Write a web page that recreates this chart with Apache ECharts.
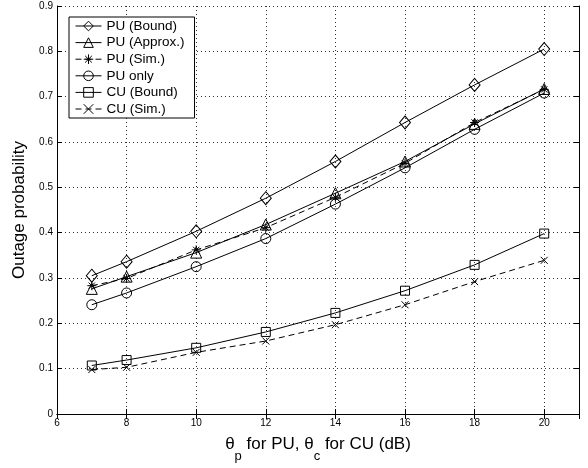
<!DOCTYPE html>
<html>
<head>
<meta charset="utf-8">
<script src="https://cdn.jsdelivr.net/npm/echarts@6/dist/echarts.min.js"></script>
<style>
html,body{margin:0;padding:0;background:#fff;}
#chart{width:588px;height:468px;}
</style>
</head>
<body>
<div id="chart"></div>
<script>
var xValues = [7, 8, 10, 12, 14, 16, 18, 20];
var puBound  = [0.305, 0.336, 0.403, 0.476, 0.557, 0.643, 0.726, 0.805];
var puApprox = [0.276, 0.303, 0.356, 0.418, 0.487, 0.557, 0.640, 0.717];
var puSim    = [0.283, 0.299, 0.362, 0.411, 0.478, 0.553, 0.643, 0.716];
var puOnly   = [0.241, 0.267, 0.325, 0.387, 0.463, 0.543, 0.628, 0.708];
var cuBound  = [0.107, 0.119, 0.146, 0.181, 0.223, 0.272, 0.329, 0.398];
var cuSim    = [0.098, 0.103, 0.136, 0.161, 0.197, 0.241, 0.292, 0.339];
var seriesNames = ['PU (Bound)', 'PU (Approx.)', 'PU (Sim.)', 'PU only', 'CU (Bound)', 'CU (Sim.)'];

var FONT = '"Liberation Sans", Arial, Helvetica, sans-serif';
function pairs(vals){ return xValues.map(function(x,i){ return [x, vals[i]]; }); }

var SYM = {
  diamond: 'path://M0,-1L0.8,0L0,1L-0.8,0Z',
  star: 'path://M-1,0L1,0M0,-1L0,1M-0.7,-0.7L0.7,0.7M-0.7,0.7L0.7,-0.7',
  cross: 'path://M-1,-1L1,1M-1,1L1,-1'
};

function mk(name, vals, symbol, size, dashed){
  return {
    name: name, type: 'line', data: pairs(vals),
    symbol: symbol, symbolSize: size, showSymbol: true,
    lineStyle: {color: '#000', width: 1, type: dashed ? [6,4] : 'solid'},
    itemStyle: {color: 'rgba(255,255,255,0)', borderColor: '#000', borderWidth: 1},
    emphasis: {disabled: true}, animation: false, z: 3
  };
}

var chart = echarts.init(document.getElementById('chart'), null, {renderer: 'canvas'});
var axisLineStyle = {show: true, lineStyle: {color: '#000', width: 1}};
var split = {show: true, lineStyle: {color: '#000', type: [1,3], width: 1, opacity: 0.8}};
chart.setOption({
  backgroundColor: '#fff',
  animation: false,
  grid: {left: 57, right: 9, top: 6, bottom: 50, containLabel: false},
  legend: {
    left: 69, top: 17, orient: 'vertical',
    data: seriesNames,
    backgroundColor: '#fff', borderColor: '#000', borderWidth: 1,
    padding: [2, 10, 2, 6], itemGap: 2.6, itemWidth: 26, itemHeight: 12,
    lineStyle: {width: 1},
    itemStyle: {borderWidth: 1},
    textStyle: {fontFamily: FONT, fontSize: 13.5, color: '#000', padding: [0,0,0,0]},
    selectedMode: false
  },
  xAxis: [{
    type: 'value', min: 6, max: 21, interval: 2,
    axisLine: axisLineStyle,
    axisTick: {show: true, inside: true, length: 5, lineStyle: {color: '#000'}},
    axisLabel: {fontFamily: FONT, fontSize: 10, color: '#000', margin: 4,
      formatter: function(v){ return v === 21 ? '' : String(v); }},
    splitLine: split,
    name: '{m|θ}{s|p}{m| for PU, θ}{s|c}{m| for CU (dB)}',
    nameLocation: 'middle', nameGap: 22,
    nameTextStyle: {rich: {
      m: {fontFamily: FONT, fontSize: 17, color: '#000', verticalAlign: 'top', lineHeight: 18},
      s: {fontFamily: FONT, fontSize: 13, color: '#000', verticalAlign: 'bottom', lineHeight: 27}
    }}
  }, {
    type: 'value', min: 6, max: 21, interval: 2, position: 'top',
    axisLine: axisLineStyle,
    axisTick: {show: true, inside: true, length: 5, lineStyle: {color: '#000'}},
    axisLabel: {show: false}, splitLine: {show: false}
  }],
  yAxis: [{
    type: 'value', min: 0, max: 0.9, interval: 0.1,
    axisLine: axisLineStyle,
    axisTick: {show: true, inside: true, length: 5, lineStyle: {color: '#000'}},
    axisLabel: {fontFamily: FONT, fontSize: 10, color: '#000', margin: 4,
      formatter: function(v){ return v === 0 ? '0' : v.toFixed(1); }},
    splitLine: split,
    name: 'Outage probability', nameLocation: 'middle', nameGap: 26,
    nameTextStyle: {fontFamily: FONT, fontSize: 17, color: '#000'}
  }, {
    type: 'value', min: 0, max: 0.9, interval: 0.1, position: 'right',
    axisLine: axisLineStyle,
    axisTick: {show: true, inside: true, length: 5, lineStyle: {color: '#000'}},
    axisLabel: {show: false}, splitLine: {show: false}
  }],
  series: [
    mk(seriesNames[0], puBound, SYM.diamond, [11, 13], false),
    mk(seriesNames[1], puApprox, 'triangle', 11, false),
    mk(seriesNames[2], puSim, SYM.star, 9, true),
    mk(seriesNames[3], puOnly, 'circle', 10, false),
    mk(seriesNames[4], cuBound, 'rect', 9, false),
    mk(seriesNames[5], cuSim, SYM.cross, 7, true)
  ]
});
</script>
</body>
</html>
